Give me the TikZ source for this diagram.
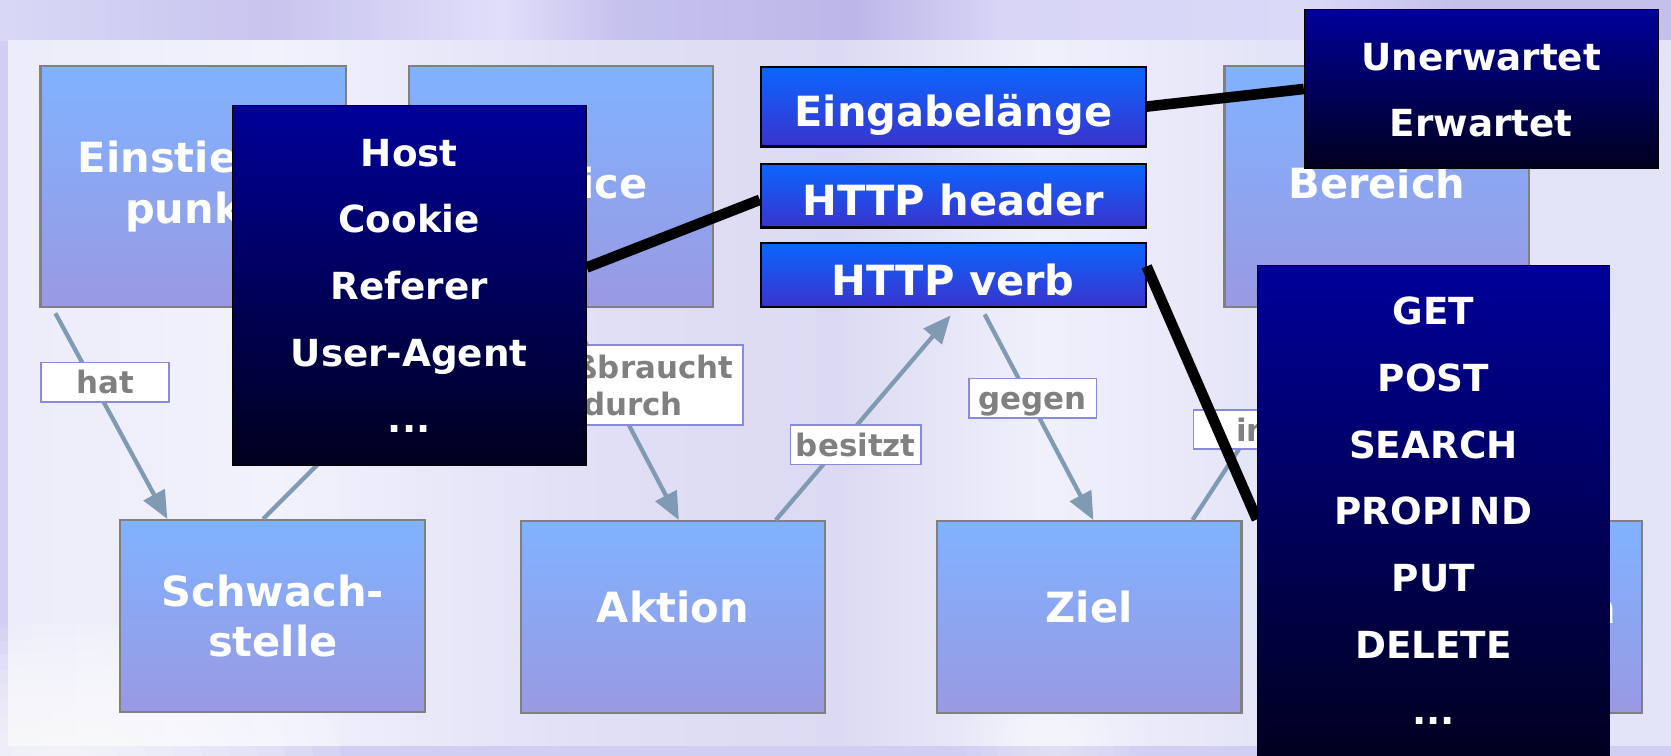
\documentclass[tikz,border=0pt]{standalone}
\usepackage{fontspec}
\setmainfont{DejaVu Sans}
\usetikzlibrary{calc,arrows.meta}

% palette
\definecolor{backBase}{HTML}{D0CEF2}
\definecolor{bandA}{HTML}{D8D8F6}
\definecolor{bandB}{HTML}{C8C4EE}
\definecolor{bandC}{HTML}{E0DEFA}
\definecolor{bandD}{HTML}{C6C2EE}
\definecolor{bandE}{HTML}{BCB7E8}
\definecolor{bandF}{HTML}{D8D5F6}
\definecolor{bandG}{HTML}{DAD9F8}
\definecolor{bandH}{HTML}{C4C0EC}
\definecolor{panA}{HTML}{ECECFA}
\definecolor{panB}{HTML}{F2F2FD}
\definecolor{panC}{HTML}{E2E0F6}
\definecolor{panD}{HTML}{DCDAF2}
\definecolor{panE}{HTML}{F0F0FC}
\definecolor{panF}{HTML}{E4E4F8}
\definecolor{boxgray}{HTML}{808080}
\definecolor{lightTop}{HTML}{80B2FF}
\definecolor{lightBot}{HTML}{9A99E2}
\definecolor{fieldTop}{HTML}{0A66FF}
\definecolor{fieldBot}{HTML}{3A33CC}
\definecolor{listTop}{HTML}{000099}
\definecolor{listBot}{HTML}{00001E}
\definecolor{relLine}{HTML}{7F9AB2}
\definecolor{labelEdge}{HTML}{8A8ADA}
\definecolor{labelText}{HTML}{808080}

\pgfdeclarehorizontalshading{bandshade}{100bp}{%
  color(0bp)=(bandA); color(25bp)=(bandA); color(33bp)=(bandB);
  color(40bp)=(bandC); color(43.5bp)=(bandD); color(50.5bp)=(bandE);
  color(55bp)=(bandF); color(64bp)=(bandG); color(68.5bp)=(bandH);
  color(75bp)=(bandH); color(100bp)=(bandH)}
\pgfdeclarehorizontalshading{panelshade}{100bp}{%
  color(0bp)=(panA); color(25bp)=(panA); color(33bp)=(panB);
  color(42bp)=(panC); color(50bp)=(panD); color(56bp)=(panE);
  color(63bp)=(panF); color(75bp)=(panF); color(100bp)=(panF)}

\pgfdeclarelayer{back}
\pgfdeclarelayer{mid}
\pgfsetlayers{back,mid,main}

\newcommand\threedots{...}

\begin{document}
\begin{tikzpicture}[x=1pt,y=-1pt,
  topic/.style={draw=boxgray,line width=2pt,top color=lightTop,bottom color=lightBot,
    inner sep=0pt,text=white,font=\fontsize{39}{47}\selectfont\bfseries},
  topone/.style={text height=36pt,text depth=14pt},
  lowone/.style={text height=30pt,text depth=20pt},
  topictext/.style={inner sep=0pt,text=white,font=\fontsize{39}{47}\selectfont\bfseries},
  field/.style={draw=black,line width=2pt,top color=fieldTop,bottom color=fieldBot,
    inner sep=0pt,minimum width=361pt,text=white,font=\fontsize{39}{47}\selectfont\bfseries,
    text height=44pt,text depth=6pt},
  listbox/.style={draw=black,line width=1.2pt,top color=listTop,bottom color=listBot,inner sep=0pt},
  listtxt/.style={inner sep=0pt,anchor=base,text=white,font=\fontsize{35}{62.6}\selectfont\bfseries},
  rel/.style={draw=relLine,line width=4pt,-{Triangle[length=26pt,width=22pt]}},
  rlabel/.style={fill=white,draw=labelEdge,line width=1.5pt,text=labelText,
    font=\fontsize{29}{34.6}\selectfont\bfseries,minimum width=120pt,
    inner xsep=5pt,inner ysep=4.5pt,text height=25pt,text depth=3pt},
  rlabeltwo/.style={fill=white,draw=labelEdge,line width=1.5pt,text=labelText,
    font=\fontsize{29}{34.6}\selectfont\bfseries,minimum width=120pt,
    inner xsep=9pt,inner ysep=0pt,align=center},
  link/.style={draw=black,line width=10pt}
]
\useasboundingbox (0,0) rectangle (1568,709);

\begin{pgfonlayer}{back}
% backdrop
\fill[backBase] (0,0) rectangle (1568,709);
\shade[shading=bandshade] (0,0) rectangle (1568,38);
\shade[shading=panelshade] (8,38) rectangle (1568,700);
% soft light patches
\foreach \k in {1,...,10}
  \fill[white,opacity=0.14] (60,715) ellipse ({26*\k} and {13*\k});
\foreach \k in {1,...,6}
  \fill[white,opacity=0.08] (990,700) ellipse ({14*\k} and {10*\k});

% concept boxes
\node[topic,align=center,minimum width=287pt,minimum height=226pt] (ein) at (181.5,175) {Einstiegs-\\punkt};
\node[topic,topone,minimum width=285pt,minimum height=226pt] (srv) at (526.5,175) {Service};
\node[topic,topone,minimum width=286pt,minimum height=226pt] (ber) at (1292,175) {Bereich};
\node[topic,align=center,minimum width=286pt,minimum height=180pt] (sch) at (256,578) {Schwach-\\stelle};
\node[topic,lowone,minimum width=285pt,minimum height=180pt] (akt) at (631.5,579) {Aktion};
\node[topic,lowone,minimum width=286pt,minimum height=180pt] (zie) at (1022,579) {Ziel};
\node[topic,minimum width=286pt,minimum height=180pt] (inf) at (1398,579) {};
\node[topictext,anchor=base east] (inf-t) at ($(inf.center)+(119,6)$) {Information};

% request fields
\node[field,minimum height=75pt] (eing) at (894.5,100) {Eingabelänge};
\node[field,minimum height=60pt] (hdr) at (894.5,183.5) {HTTP header};
\node[field,minimum height=60pt] (verb) at (894.5,258) {HTTP verb};

% relations
\draw[rel] ($(ein.south west)+(15,5)$) -- ($(sch.north west)+(45,0)$);
\draw[rel] ($(sch.north west)+(135,0)$) -- ($(srv.south west)+(57,5)$);
\draw[rel] ($(srv.south west)+(152,5)$) -- ($(akt.north west)+(149,0)$);
\draw[rel] ($(akt.north west)+(240,0)$) -- ($(verb.south west)+(179,7)$);
\draw[rel] ($(verb.south west)+(211,6)$) -- ($(zie.north west)+(148,0)$);
\draw[rel] ($(zie.north west)+(241,0)$) -- ($(ber.south west)+(98,5)$);

% relation labels
\node[rlabel] (l-hat) at (98.5,358.5) {hat};
\node[rlabeltwo,minimum height=75pt] (l-mis) at (594,361.5) {mißbraucht\\durch};
\node[rlabel] (l-bes) at (803,417.5) {besitzt};
\node[rlabel] (l-geg) at (969,373.5) {gegen};
\node[rlabel] (l-im) at (1180,403) {im};
\end{pgfonlayer}

% value lists
\node[listbox,minimum width=332pt,minimum height=338pt] (hosts) at (384,268) {};
\foreach \t [count=\i from 0] in {Host,Cookie,Referer,User-Agent,\threedots}
  \node[listtxt] (hosts-\i) at ($(hosts.north)+(0,57.4+62.6*\i)$) {\t};

\node[listbox,minimum width=332pt,minimum height=149pt] (erw) at (1390,83.5) {};
\foreach \t [count=\i from 0] in {Unerwartet,Erwartet}
  \node[listtxt] (erw-\i) at ($(erw.north)+(0,57.3+62.6*\i)$) {\t};

\node[listbox,minimum width=330pt,minimum height=466pt] (verbs) at (1345,482) {};
\foreach \t [count=\i from 0] in {GET,POST,SEARCH,PROPI\kern6pt ND,PUT,DELETE,\threedots}
  \node[listtxt] (verbs-\i) at ($(verbs.north)+(0,56.3+62.6*\i)$) {\t};

% links from fields to their value lists
\begin{pgfonlayer}{mid}
\draw[link] ($(hosts.east)+(0,-17)$) -- ($(hdr.west)+(0,4)$);
\draw[link] (eing.east) -- (erw.west);
\draw[link] ($(verb.east)+(0,-8)$) -- ($(verbs.north west)+(0,239)$);
\end{pgfonlayer}
\end{tikzpicture}
\end{document}
